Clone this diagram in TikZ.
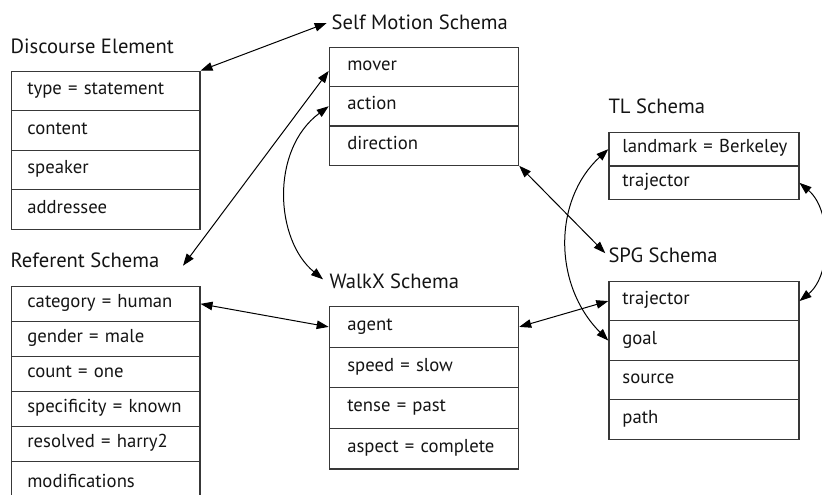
\documentclass[tikz,border=0pt]{standalone}
\usepackage{fontspec}
\setmainfont{PT Sans}
\usetikzlibrary{arrows.meta,calc}

\tikzset{
  every node/.style={text=black!92},
  title/.style={anchor=base west, inner sep=2pt, font=\fontsize{20.6}{24}\selectfont},
  slot/.style={draw=black!78, line width=1.2pt, rectangle, anchor=north west,
    font=\fontsize{18.7}{22}\selectfont,
    align=left, text height=0.82em, text depth=0.12em, inner ysep=0pt},
  link/.style={draw=black, line width=1pt, {Triangle[length=12pt,width=8.5pt]}-{Triangle[length=12pt,width=8.5pt]}},
}

\begin{document}
\begin{tikzpicture}[x=1pt, y=-1pt]
\useasboundingbox (0,0) rectangle (822,495);

% Discourse Element
\node[title] (det) at (8.5,54) {Discourse Element};
\begin{scope}[every node/.append style={slot, text width=156.6pt, inner xsep=16pt, minimum height=39.5pt}]
  \node (de1) at (10.7,70.7)  {type = statement};
  \node (de2) at (10.7,110.2) {content};
  \node (de3) at (10.7,149.7) {speaker};
  \node (de4) at (10.7,189.2) {addressee};
\end{scope}

% Referent Schema
\node[title] (rst) at (8.5,267.7) {Referent Schema};
\begin{scope}[every node/.append style={slot, text width=156.6pt, inner xsep=16pt, minimum height=35.1pt}]
  \node (rs1) at (10.7,285.7) {category = human};
  \node (rs2) at (10.7,320.8) {gender = male};
  \node (rs3) at (10.7,355.9) {count = one};
  \node (rs4) at (10.7,391.0) {specificity = known};
  \node (rs5) at (10.7,426.1) {resolved = harry2};
  \node[minimum height=45pt] (rs6) at (10.7,461.2) {modifications};
\end{scope}

% Self Motion Schema
\node[title] (smt) at (329.5,29.8) {Self Motion Schema};
\begin{scope}[every node/.append style={slot, text width=153.3pt, inner xsep=18pt, minimum height=39.3pt}]
  \node (sm1) at (328.7,46.7)  {mover};
  \node (sm2) at (328.7,86.0)  {action};
  \node (sm3) at (328.7,125.3) {direction};
\end{scope}

% WalkX Schema
\node[title] (wxt) at (327.5,288.3) {WalkX Schema};
\begin{scope}[every node/.append style={slot, text width=153.3pt, inner xsep=18pt, minimum height=40.6pt}]
  \node (wx1) at (328.7,306.0) {agent};
  \node (wx2) at (328.7,346.6) {speed = slow};
  \node (wx3) at (328.7,387.2) {tense = past};
  \node (wx4) at (328.7,427.8) {aspect = complete};
\end{scope}

% TL Schema
\node[title] (tlt) at (606.3,113.3) {TL Schema};
\begin{scope}[every node/.append style={slot, text width=163pt, inner xsep=13.5pt, minimum height=33.7pt}]
  \node (tl1) at (608.3,131.7) {\mbox{landmark = Berkeley}};
  \node (tl2) at (608.3,165.4) {trajector};
\end{scope}

% SPG Schema
\node[title] (spgt) at (606.3,262.7) {SPG Schema};
\begin{scope}[every node/.append style={slot, text width=163pt, inner xsep=13.5pt, minimum height=39.5pt}]
  \node (spg1) at (608.3,280.7) {trajector};
  \node (spg2) at (608.3,320.2) {goal};
  \node (spg3) at (608.3,359.7) {source};
  \node (spg4) at (608.3,399.2) {path};
\end{scope}

% role bindings
\draw[link] (de1.north east) -- ([xshift=-2.8pt,yshift=6.8pt]smt.base west);
\draw[link] ([xshift=174.5pt,yshift=2pt]rst.base west) -- ([yshift=-4pt]sm1.west);
\draw[link] (sm2.west) .. controls (270,150) and (275,240) .. ([xshift=-4.5pt,yshift=9pt]wxt.base west);
\draw[link] (sm3.south east) -- ([xshift=-1pt,yshift=9.5pt]spgt.base west);
\draw[link] (rs1.east) -- (wx1.west);
\draw[link] (wx1.east) -- (spg1.west);
\draw[link] (tl1.west) .. controls (553,200) and (553,285) .. (spg2.west);
\draw[link] (tl2.east) .. controls (832,210) and (832,275) .. (spg1.east);
\end{tikzpicture}
\end{document}
